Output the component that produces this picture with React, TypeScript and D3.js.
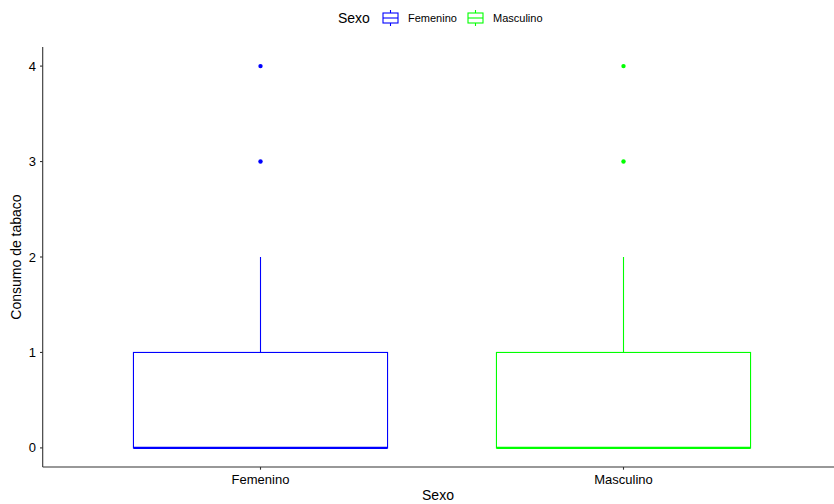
import React from "react";
import * as d3 from "d3";

const categories = ["Femenino", "Masculino"];
const colors = ["#0000FF", "#00FF00"];
const lower = [0, 0];
const q1 = [0, 0];
const median = [0, 0];
const q3 = [1, 1];
const upper = [2, 2];
const outliers = [[3, 4], [3, 4]];
const yTicks = [0, 1, 2, 3, 4];

const W = 834, H = 504;

export default function App() {
  const x = d3.scaleLinear().domain([0.4, 2.6]).range([42.7, 42.7 + 798.6]);
  const y = d3.scaleLinear().domain([-0.2, 4.2]).range([467, 47]);
  const bw = 0.7;
  const font = "Liberation Sans, Arial, sans-serif";
  return (
    <svg width={W} height={H} style={{ position: "absolute", left: 0, top: 0 }} fontFamily={font}>
      <rect width={W} height={H} fill="#fff" />
      {categories.map((c, i) => {
        const cx = x(i + 1);
        const x0 = x(i + 1 - bw / 2), x1 = x(i + 1 + bw / 2);
        return (
          <g key={c} stroke={colors[i]} fill="none">
            <line x1={cx} x2={cx} y1={y(q3[i])} y2={y(upper[i])} strokeWidth={1.1} />
            <line x1={cx} x2={cx} y1={y(q1[i])} y2={y(lower[i])} strokeWidth={1.1} />
            <rect x={x0} y={y(q3[i])} width={x1 - x0} height={y(q1[i]) - y(q3[i])} fill="#fff" strokeWidth={1.1} />
            <line x1={x0} x2={x1} y1={y(median[i])} y2={y(median[i])} strokeWidth={2.2} />
            {outliers[i].map((v, j) => (
              <circle key={j} cx={cx} cy={y(v)} r={2.2} fill={colors[i]} stroke="none" />
            ))}
          </g>
        );
      })}
      {/* axes */}
      <line x1={42.7} x2={42.7} y1={47} y2={467} stroke="#333" strokeWidth={1.1} />
      <line x1={42.7} x2={W} y1={467} y2={467} stroke="#333" strokeWidth={1.1} />
      {yTicks.map((t) => (
        <g key={t}>
          <line x1={40} x2={42.7} y1={y(t)} y2={y(t)} stroke="#333" strokeWidth={1.1} />
          <text x={36} y={y(t)} dy="0.35em" textAnchor="end" fontSize={13} fill="#000">{t}</text>
        </g>
      ))}
      {categories.map((c, i) => (
        <g key={c}>
          <line x1={x(i + 1)} x2={x(i + 1)} y1={467} y2={469.7} stroke="#333" strokeWidth={1.1} />
          <text x={x(i + 1)} y={484} textAnchor="middle" fontSize={13} fill="#000">{c}</text>
        </g>
      ))}
      <text x={438} y={500} textAnchor="middle" fontSize={14} fill="#000">Sexo</text>
      <text transform={`translate(21,257) rotate(-90)`} textAnchor="middle" fontSize={14} fill="#000">Consumo de tabaco</text>
      {/* legend */}
      <text x={338} y={23} fontSize={14} fill="#000">Sexo</text>
      {categories.map((c, i) => {
        const lx = [383, 468][i];
        return (
          <g key={c}>
            <g stroke={colors[i]} fill="none" strokeWidth={1.1}>
              <line x1={lx + 7.5} x2={lx + 7.5} y1={10} y2={13} />
              <line x1={lx + 7.5} x2={lx + 7.5} y1={23} y2={26} />
              <rect x={lx} y={13} width={15} height={10} fill="#fff" />
              <line x1={lx} x2={lx + 15} y1={18} y2={18} />
            </g>
            <text x={lx + 25} y={22} fontSize={11} fill="#000">{c}</text>
          </g>
        );
      })}
    </svg>
  );
}
